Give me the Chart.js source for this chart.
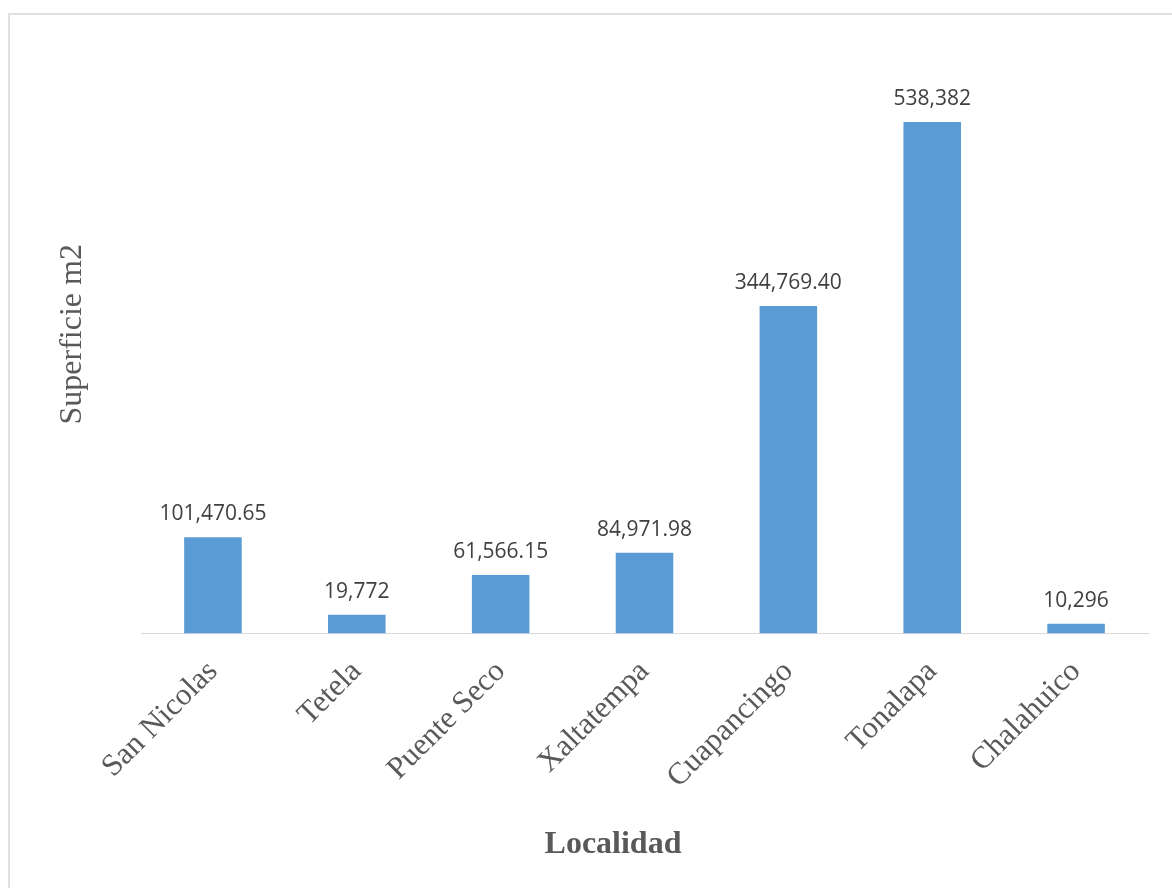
<!DOCTYPE html>
<html>
<head>
<meta charset="utf-8">
<script src="https://cdn.jsdelivr.net/npm/chart.js@4.4.1/dist/chart.umd.min.js"></script>
<style>
  html, body { margin: 0; padding: 0; background: #fff; overflow: hidden; }
  #cadre { position: absolute; left: 8px; top: 13px; width: 1300px; height: 1000px; border: 2px solid #e0e0e0; }
  #graphique { position: absolute; left: 0; top: 0; }
</style>
</head>
<body>
<div id="cadre"></div>
<canvas id="graphique" width="1172" height="888"></canvas>
<script>
/** Données */
const localidades = ['San Nicolas', 'Tetela', 'Puente Seco', 'Xaltatempa', 'Cuapancingo', 'Tonalapa', 'Chalahuico'];
const superficie = [101470.65, 19772, 61566.15, 84971.98, 344769.40, 538382, 10296];
const ejeY = [0, 630000];

const serif = '"Liberation Serif", "Times New Roman", serif';
const gris = '#595959';

/** 2 décimales si la valeur n'est pas entière */
const formate = v => v.toLocaleString('en-US', {
  minimumFractionDigits: Number.isInteger(v) ? 0 : 2,
  maximumFractionDigits: 2 });

/** Etiquettes au-dessus des barres */
const etiquetas = {
  id: 'etiquetas',
  afterDatasetsDraw(chart) {
    const ctx = chart.ctx;
    const meta = chart.getDatasetMeta(0);
    ctx.save();
    ctx.font = '21px "Open Sans"';
    ctx.fillStyle = '#404040';
    ctx.textAlign = 'center';
    ctx.textBaseline = 'alphabetic';
    meta.data.forEach((barre, i) => {
      ctx.fillText(formate(superficie[i]), barre.x, barre.y - 17);
    });
    ctx.restore();
  }
};

const ctx = document.getElementById('graphique').getContext('2d');
new Chart(ctx, {
  type: 'bar',
  data: {
    labels: localidades,
    datasets: [{
      data: superficie,
      backgroundColor: '#5B9BD5',
      categoryPercentage: 1,
      barPercentage: 0.4 }]},
  options: {
    responsive: false,
    animation: false,
    layout: { padding: { left: 78, right: 24, top: 35, bottom: 24 } },
    plugins: {
      legend: { display: false },
      tooltip: { enabled: false },
      title: {
        display: true,
        position: 'bottom',
        text: 'Localidad',
        color: gris,
        padding: 0,
        font: { family: serif, size: 32, weight: 'bold', lineHeight: 1.2 } } },
    scales: {
      x: {
        grid: { display: false },
        border: { color: '#d9d9d9', width: 1 },
        ticks: {
          color: gris,
          autoSkip: false,
          minRotation: 45,
          maxRotation: 45,
          padding: 12,
          font: { family: serif, size: 31 } },
        afterFit: s => { s.height = 192; } },
      y: {
        min: ejeY[0],
        max: ejeY[1],
        grid: { display: false },
        border: { display: false },
        ticks: { display: false },
        title: {
          display: true,
          text: 'Superficie m2',
          color: gris,
          padding: { top: -25, bottom: 0 },
          font: { family: serif, size: 32, lineHeight: 1.2 } },
        afterFit: s => { s.width = 63; } } } },
  plugins: [etiquetas]
});
</script>
</body>
</html>
